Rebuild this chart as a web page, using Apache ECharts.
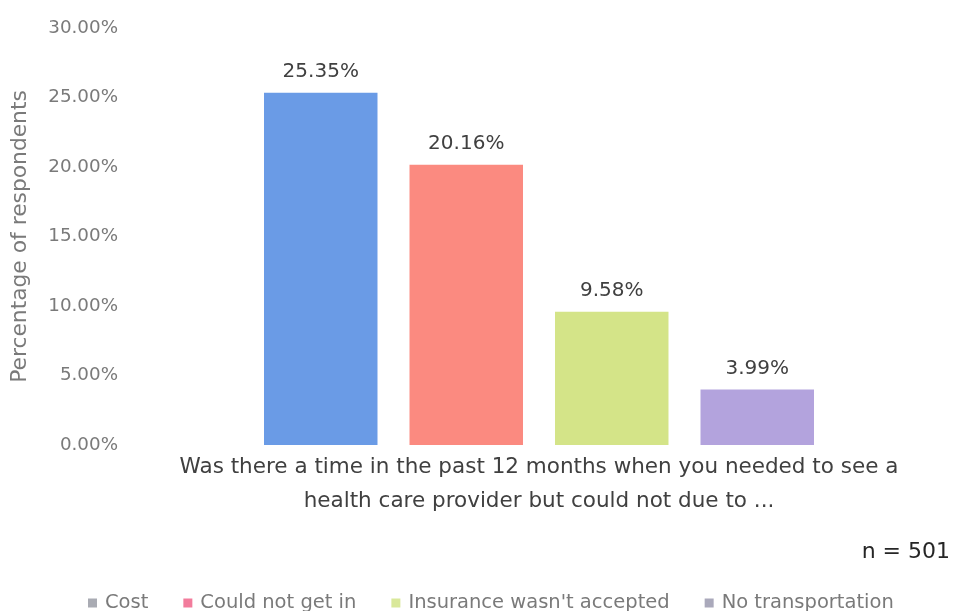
<!DOCTYPE html>
<html><head><meta charset="utf-8">
<script src="https://cdn.jsdelivr.net/npm/echarts@6/dist/echarts.min.js"></script>
<style>html,body{margin:0;padding:0;background:#fff}#c{width:953px;height:611px}</style>
</head><body><div id="c"></div>
<script>
const categories = ["Cost", "Could not get in", "Insurance wasn't accepted", "No transportation"];
const values = [25.35, 20.16, 9.58, 3.99];
const colors = ["#6a9be6", "#fb8a80", "#d4e488", "#b3a3dd"];
const legendColors = ["#a9abb3", "#f27c9c", "#d9e89a", "#aaa9bb"];
const yTicks = [0, 5, 10, 15, 20, 25, 30];
const FONT = 'DejaVu Sans';

const chart = echarts.init(document.getElementById('c'));
const series = categories.map((name, i) => ({
  name: name,
  type: 'bar',
  stack: 'all',
  barWidth: '78%',
  data: categories.map((c, j) => j === i ? values[i] : '-'),
  itemStyle: { color: colors[i] },
  label: {
    show: true, position: 'top', distance: 11,
    formatter: p => p.value.toFixed(2) + '%',
    color: '#404040', fontSize: 20, fontFamily: FONT
  }
}));
chart.setOption({
  animation: false,
  grid: { left: 248, right: 123, top: 28, bottom: 166 },
  xAxis: {
    type: 'category', data: categories,
    axisLine: { show: false }, axisTick: { show: false }, axisLabel: { show: false },
    name: 'Was there a time in the past 12 months when you needed to see a\nhealth care provider but could not due to ...',
    nameLocation: 'middle', nameGap: 5,
    nameTextStyle: { color: '#404040', fontSize: 21.5, lineHeight: 34, fontFamily: FONT, verticalAlign: 'top' }
  },
  yAxis: {
    type: 'value', min: yTicks[0], max: yTicks[yTicks.length - 1], interval: 5,
    splitLine: { show: false }, axisLine: { show: false }, axisTick: { show: false },
    axisLabel: { formatter: v => v.toFixed(2) + '%', color: '#7a7a7a', fontSize: 18.3, margin: 130, fontFamily: FONT },
    name: 'Percentage of respondents', nameLocation: 'middle', nameGap: 217,
    nameTextStyle: { color: '#7a7a7a', fontSize: 21.8, fontFamily: FONT }
  },
  legend: {
    top: 588, left: 83, itemWidth: 9, itemHeight: 9, itemGap: 35,
    icon: 'rect',
    textStyle: { color: '#7a7a7a', fontSize: 19.5, fontFamily: FONT, padding: [0, 0, 0, 3] },
    data: categories.map((c, i) => ({ name: c, itemStyle: { color: legendColors[i] } }))
  },
  graphic: [{
    type: 'text', right: 3, top: 541,
    style: { text: 'n = 501', fill: '#262626', fontSize: 22, fontFamily: FONT }
  }],
  series: series
});
</script></body></html>
